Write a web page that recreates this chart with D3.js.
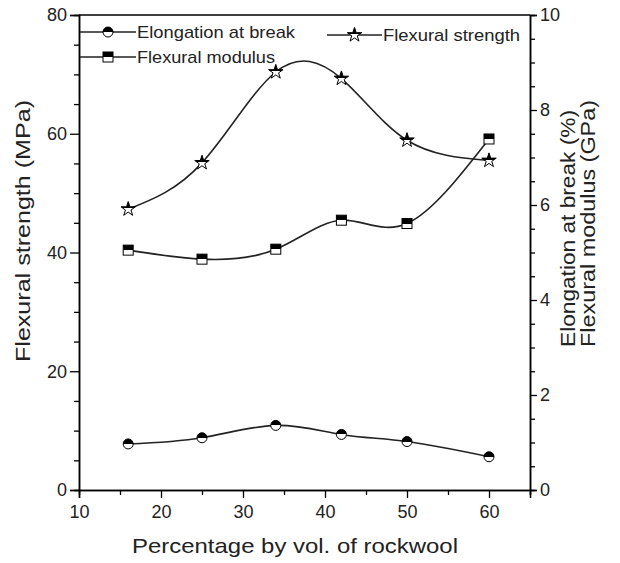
<!DOCTYPE html>
<head>
  <meta charset="utf-8">
  <script src="https://d3js.org/d3.v7.min.js"></script>
  <style>
    body { margin: 0; background: #fff; }
    svg { font-family: "Liberation Sans", Arial, sans-serif; }
  </style>
</head>
<body>
  <svg width="620" height="563"></svg>
  <script>
    // data
    const rockwool = [16, 25, 34, 42, 50, 60];
    const flexStrength = [47.3, 55.1, 70.4, 69.3, 58.9, 55.5];   // MPa, left axis
    const flexModulus = [5.05, 4.86, 5.07, 5.68, 5.61, 7.39];    // GPa, right axis
    const elongation = [0.97, 1.10, 1.36, 1.17, 1.02, 0.70];     // %, right axis
    const xTicks = [10, 20, 30, 40, 50, 60];
    const leftTicks = [0, 20, 40, 60, 80];
    const rightTicks = [0, 2, 4, 6, 8, 10];

    const svg = d3.select('svg');
    const plotL = 79, plotR = 530, plotT = 15, plotB = 490;

    const x = d3.scaleLinear().domain([10, 65]).range([plotL, plotR]);
    const yL = d3.scaleLinear().domain([0, 80]).range([plotB, plotT]);
    const yR = d3.scaleLinear().domain([0, 10]).range([plotB, plotT]);

    // half filled marker gradient
    const grad = svg.append('defs').append('linearGradient')
      .attr('id', 'half').attr('x1', 0).attr('y1', 0).attr('x2', 0).attr('y2', 1);
    grad.append('stop').attr('offset', '50%').attr('stop-color', '#000');
    grad.append('stop').attr('offset', '50%').attr('stop-color', '#fff');

    /*** axes ***/
    // bottom
    const gx = svg.append('g').attr('transform', `translate(0,${plotB})`)
      .call(d3.axisBottom(x).tickValues(d3.range(15, 66, 10)).tickSize(5).tickFormat(''));
    const gx2 = svg.append('g').attr('transform', `translate(0,${plotB})`)
      .call(d3.axisBottom(x).tickValues(xTicks).tickSize(8).tickPadding(7).tickFormat(d3.format('d')));

    // left
    const gl = svg.append('g').attr('transform', `translate(${plotL},0)`)
      .call(d3.axisLeft(yL).tickValues(d3.range(5, 80, 5).filter(v => v % 20 !== 0)).tickSize(5).tickFormat(''));
    const gl2 = svg.append('g').attr('transform', `translate(${plotL},0)`)
      .call(d3.axisLeft(yL).tickValues(leftTicks).tickSize(9).tickPadding(3).tickFormat(d3.format('d')));

    // right
    const gr = svg.append('g').attr('transform', `translate(${plotR},0)`)
      .call(d3.axisRight(yR).tickValues(d3.range(0.5, 10, 0.5).filter(v => v % 2 !== 0)).tickSize(5).tickFormat(''));
    const gr2 = svg.append('g').attr('transform', `translate(${plotR},0)`)
      .call(d3.axisRight(yR).tickValues(rightTicks).tickSize(7).tickPadding(3).tickFormat(d3.format('d')));

    [gx, gx2, gl, gl2, gr, gr2].forEach(g => {
      g.select('.domain').attr('stroke-width', 1.5).attr('stroke', '#000');
      g.selectAll('.tick line').attr('stroke-width', 1.3).attr('stroke', '#000');
      g.selectAll('text').attr('font-size', 18).attr('fill', '#222')
        .attr('font-family', '"Liberation Sans", Arial, sans-serif');
    });
    // top border
    svg.append('line').attr('x1', plotL).attr('x2', plotR).attr('y1', plotT).attr('y2', plotT)
      .attr('stroke', '#000').attr('stroke-width', 1.5);

    /*** axis titles ***/
    // the reference font is wider than Arial, so stretch to the measured lengths
    const title = (tr, size, len, txt, anchor) => svg.append('text')
      .attr('transform', tr).attr('text-anchor', anchor)
      .attr('font-size', size).attr('fill', '#222')
      .attr('textLength', len).attr('lengthAdjust', 'spacingAndGlyphs').text(txt);

    title('translate(295,553)', 21, 326, 'Percentage by vol. of rockwool', 'middle');
    title('translate(30,231) rotate(-90)', 21, 262, 'Flexural strength (MPa)', 'middle');
    title('translate(575,347) rotate(-90)', 20, 237, 'Elongation at break (%)', 'start');
    title('translate(595,347) rotate(-90)', 20, 247, 'Flexural modulus (GPa)', 'start');

    /*** series ***/
    const series = [
      { name: 'Flexural strength', vals: flexStrength, y: yL, shape: 'star' },
      { name: 'Flexural modulus', vals: flexModulus, y: yR, shape: 'square' },
      { name: 'Elongation at break', vals: elongation, y: yR, shape: 'circle' }
    ];

    const marker = (g, shape) => {
      if (shape === 'circle') {
        g.append('circle').attr('r', 5);
      } else if (shape === 'square') {
        g.append('rect').attr('x', -5).attr('y', -5).attr('width', 10).attr('height', 10);
      } else {
        g.append('path').attr('d', d3.symbol(d3.symbolStar, 65)());
      }
      g.selectAll('*').attr('fill', 'url(#half)').attr('stroke', '#000').attr('stroke-width', 1);
    };

    series.forEach(s => {
      const pts = rockwool.map((r, i) => [r, s.vals[i]]);
      svg.append('path')
        .attr('d', d3.line().x(d => x(d[0])).y(d => s.y(d[1])).curve(d3.curveNatural)(pts))
        .attr('fill', 'none').attr('stroke', '#222').attr('stroke-width', 1.6);
      pts.forEach(p => {
        const g = svg.append('g').attr('transform', `translate(${x(p[0])},${s.y(p[1])})`);
        marker(g, s.shape);
      });
    });

    /*** legend ***/
    const legend = [
      { name: 'Elongation at break', shape: 'circle', x0: 80, x1: 136, y: 32, len: 158 },
      { name: 'Flexural modulus', shape: 'square', x0: 80, x1: 136, y: 57, len: 138 },
      { name: 'Flexural strength', shape: 'star', x0: 327, x1: 382, y: 35, len: 137 }
    ];
    legend.forEach(l => {
      svg.append('line').attr('x1', l.x0).attr('x2', l.x1).attr('y1', l.y).attr('y2', l.y)
        .attr('stroke', '#222').attr('stroke-width', 1.5);
      const g = svg.append('g').attr('transform', `translate(${(l.x0 + l.x1) / 2},${l.y})`);
      marker(g, l.shape);
      svg.append('text').attr('x', l.x1 + 1).attr('y', l.y).attr('dy', '0.35em')
        .attr('font-size', 17).attr('fill', '#222')
        .attr('textLength', l.len).attr('lengthAdjust', 'spacingAndGlyphs').text(l.name);
    });
  </script>
</body>
